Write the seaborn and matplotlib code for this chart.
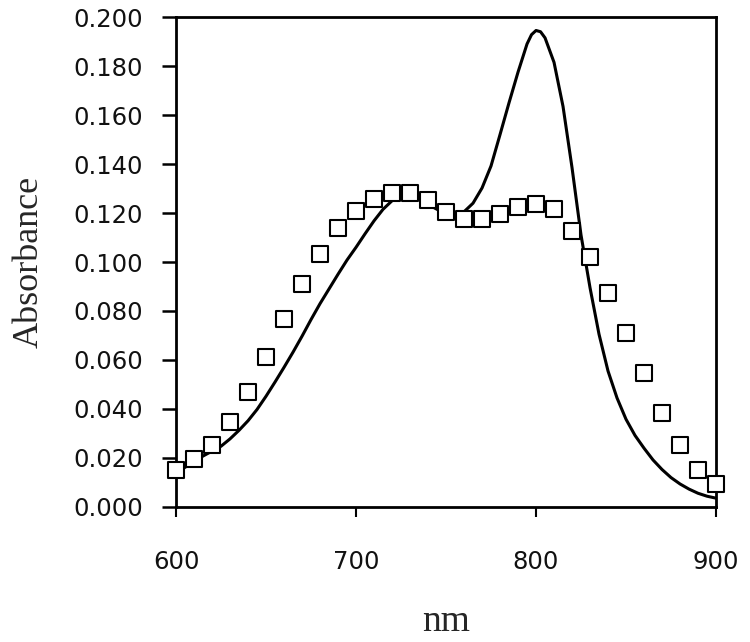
import numpy as np
import pandas as pd
import seaborn as sns
import matplotlib.pyplot as plt

# measured spectrum (squares), every 10 nm
nm_pts = [600, 610, 620, 630, 640, 650, 660, 670, 680, 690, 700, 710, 720, 730, 740, 750,
          760, 770, 780, 790, 800, 810, 820, 830, 840, 850, 860, 870, 880, 890, 900]
abs_pts = [0.0151, 0.0196, 0.0253, 0.0348, 0.0471, 0.0614, 0.0766, 0.0909, 0.1033, 0.1137,
           0.1209, 0.1257, 0.1280, 0.1280, 0.1253, 0.1203, 0.1176, 0.1176, 0.1196, 0.1223,
           0.1237, 0.1215, 0.1128, 0.1020, 0.0872, 0.0709, 0.0548, 0.0385, 0.0253, 0.0151, 0.0093]

# second spectrum (solid line)
nm_line = [600, 605, 610, 615, 620, 625, 630, 635, 640, 645, 650, 655, 660, 665, 670, 675,
           680, 685, 690, 695, 700, 705, 710, 715, 720, 725, 730, 735, 740, 745, 750, 755,
           760, 765, 770, 775, 780, 785, 790, 795, 797.5, 800, 802.5, 805, 810, 815, 820, 825,
           830, 835, 840, 845, 850, 855, 860, 865, 870, 875, 880, 885, 890, 895, 900]
abs_line = [0.0140, 0.0162, 0.0185, 0.0208, 0.0228, 0.0248, 0.0278, 0.0313, 0.0352, 0.0398,
            0.0452, 0.0510, 0.0570, 0.0632, 0.0697, 0.0765, 0.0830, 0.0890, 0.0950, 0.1008,
            0.1060, 0.1115, 0.1168, 0.1215, 0.1250, 0.1265, 0.1265, 0.1255, 0.1235, 0.1215,
            0.1198, 0.1192, 0.1205, 0.1240, 0.1302, 0.1392, 0.1520, 0.1650, 0.1775, 0.1890,
            0.1928, 0.1945, 0.1940, 0.1915, 0.1815, 0.1635, 0.1385, 0.1110,
            0.0895, 0.0705, 0.0555, 0.0445, 0.0358, 0.0292, 0.0240, 0.0192, 0.0153, 0.0120,
            0.0094, 0.0073, 0.0056, 0.0044, 0.0036]

df_pts = pd.DataFrame({'nm': nm_pts, 'abs': abs_pts})
df_line = pd.DataFrame({'nm': nm_line, 'abs': abs_line})

sns.set_style('white')
fig = plt.figure(figsize=(7.5, 6.42), dpi=100)
ax = fig.add_axes([0.2347, 0.2103, 0.72, 0.7632])

sns.lineplot(data=df_line, x='nm', y='abs', color='black', linewidth=2.2, ax=ax, zorder=2)
sns.scatterplot(data=df_pts, x='nm', y='abs', marker='s', s=145, facecolor='white',
                edgecolor='black', linewidth=1.5, ax=ax, zorder=3, clip_on=False)

ax.set_xlim(600, 900)
ax.set_ylim(0, 0.2)
ax.set_xticks([600, 700, 800, 900])
ax.set_yticks(np.arange(0, 0.2001, 0.02))
ax.set_yticklabels(['%.3f' % v for v in np.arange(0, 0.2001, 0.02)])

for sp in ax.spines.values():
    sp.set_color('black')
    sp.set_linewidth(2)

ax.tick_params(axis='y', direction='out', length=10, width=1.8, pad=14, labelsize=17.5,
               left=True, colors='black')
ax.tick_params(axis='x', direction='out', length=7, width=1.5, pad=24, labelsize=17.5,
               bottom=True, colors='black')
for lab in ax.get_xticklabels() + ax.get_yticklabels():
    lab.set_family('DejaVu Sans')
    lab.set_color('#111111')

ax.set_xlabel('nm', family='Liberation Serif', fontsize=27, labelpad=22)
ax.set_ylabel('Absorbance', family='Liberation Serif', fontsize=26, labelpad=20)

fig.savefig('out.png', dpi=100)
